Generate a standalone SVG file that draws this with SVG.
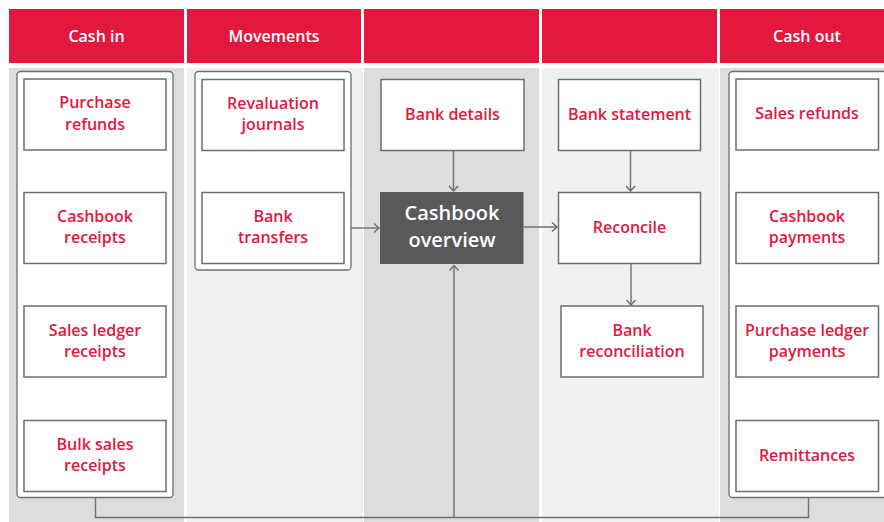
<svg xmlns="http://www.w3.org/2000/svg" width="884" height="522" viewBox="0 0 884 522">
<style>
.hdr{fill:#e4173e}
.hdrt{font-family:"Open Sans","Noto Sans",sans-serif;font-weight:600;font-size:16px;fill:#ffffff;text-anchor:middle}
.bgd{fill:#dcdddf}
.bgl{fill:#f1f1f1}
.grp{fill:#ffffff;stroke:#6d6e70;stroke-width:1.3}
.box{fill:#ffffff;stroke:#6d6e70;stroke-width:1.5}
.lbl{font-family:"Open Sans","Noto Sans",sans-serif;font-weight:600;font-size:16px;fill:#e4173e;text-anchor:middle}
.dark{fill:#58595b}
.darkt{font-family:"Open Sans","Noto Sans",sans-serif;font-weight:600;font-size:20px;fill:#ffffff;text-anchor:middle}
.con{fill:none;stroke:#6d6e70;stroke-width:1.4}
</style>
<defs>
<marker id="arr" markerUnits="userSpaceOnUse" markerWidth="12" markerHeight="12" refX="7" refY="6" orient="auto">
<path d="M2,1.5 L7,6 L2,10.5" fill="none" stroke="#6d6e70" stroke-width="1.5"/>
</marker>
</defs>
<rect width="884" height="522" fill="#ffffff"/>
<g id="headers">
<rect class="hdr" x="9" y="9" width="175" height="54"/>
<rect class="hdr" x="187" y="9" width="174" height="54"/>
<rect class="hdr" x="364" y="9" width="175" height="54"/>
<rect class="hdr" x="542" y="9" width="175" height="54"/>
<rect class="hdr" x="720" y="9" width="164" height="54"/>
<text class="hdrt" x="96.5" y="42">Cash in</text>
<text class="hdrt" x="274" y="42">Movements</text>
<text class="hdrt" x="807" y="42">Cash out</text>
</g>
<g id="columns">
<rect class="bgd" x="9" y="68" width="175" height="454"/>
<rect class="bgl" x="187" y="68" width="176" height="454"/>
<rect class="bgd" x="364" y="68" width="175" height="454"/>
<rect class="bgl" x="542" y="68" width="177" height="454"/>
<rect class="bgd" x="720" y="68" width="164" height="454"/>
</g>
<g id="group-cash-in"><rect class="grp" x="17" y="71.5" width="156" height="426" rx="3.5"/></g>
<g id="group-movements"><rect class="grp" x="195" y="71.5" width="156" height="198.5" rx="3.5"/></g>
<g id="group-cash-out"><rect class="grp" x="729" y="71.5" width="170" height="426" rx="3.5"/></g>
<g id="connectors">
<path class="con" d="M95.5,498 V517.5 H808.5 V498"/>
<path class="con" d="M454,517.5 V265.5" marker-end="url(#arr)"/>
<path class="con" d="M351,228 H379" marker-end="url(#arr)"/>
<path class="con" d="M453.5,151 V191" marker-end="url(#arr)"/>
<path class="con" d="M523.5,227 H557" marker-end="url(#arr)"/>
<path class="con" d="M630.5,151 V191" marker-end="url(#arr)"/>
<path class="con" d="M631,264 V305" marker-end="url(#arr)"/>
</g>
<g id="purchase-refunds"><rect class="box" x="24" y="79" width="142" height="71"/><text class="lbl" x="95" y="108">Purchase</text><text class="lbl" x="95" y="130">refunds</text></g>
<g id="cashbook-receipts"><rect class="box" x="24" y="192.5" width="142" height="71"/><text class="lbl" x="95" y="222">Cashbook</text><text class="lbl" x="95" y="243">receipts</text></g>
<g id="sales-ledger-receipts"><rect class="box" x="24" y="306" width="142" height="71"/><text class="lbl" x="95" y="336">Sales ledger</text><text class="lbl" x="95" y="357">receipts</text></g>
<g id="bulk-sales-receipts"><rect class="box" x="24" y="420.5" width="142" height="71"/><text class="lbl" x="95" y="450">Bulk sales</text><text class="lbl" x="95" y="471">receipts</text></g>
<g id="revaluation-journals"><rect class="box" x="202" y="79.5" width="142" height="71"/><text class="lbl" x="273" y="109">Revaluation</text><text class="lbl" x="273" y="130">journals</text></g>
<g id="bank-transfers"><rect class="box" x="202" y="192.5" width="142" height="71"/><text class="lbl" x="273" y="222">Bank</text><text class="lbl" x="273" y="243">transfers</text></g>
<g id="bank-details"><rect class="box" x="381" y="79.5" width="143" height="71"/><text class="lbl" x="452.5" y="120">Bank details</text></g>
<g id="cashbook-overview"><rect class="dark" x="380" y="192" width="143.5" height="72"/><text class="darkt" x="452" y="219.5">Cashbook</text><text class="darkt" x="452" y="247">overview</text></g>
<g id="bank-statement"><rect class="box" x="558.5" y="79.5" width="142" height="71"/><text class="lbl" x="629.5" y="120">Bank statement</text></g>
<g id="reconcile"><rect class="box" x="558.5" y="192.5" width="142" height="71"/><text class="lbl" x="629.5" y="233">Reconcile</text></g>
<g id="bank-reconciliation"><rect class="box" x="561" y="306" width="142" height="71"/><text class="lbl" x="632" y="336">Bank</text><text class="lbl" x="632" y="357">reconciliation</text></g>
<g id="sales-refunds"><rect class="box" x="736" y="79" width="142.5" height="71"/><text class="lbl" x="807" y="119">Sales refunds</text></g>
<g id="cashbook-payments"><rect class="box" x="736" y="192.5" width="142.5" height="71"/><text class="lbl" x="807" y="222">Cashbook</text><text class="lbl" x="807" y="243">payments</text></g>
<g id="purchase-ledger-payments"><rect class="box" x="736" y="306" width="142.5" height="71"/><text class="lbl" x="807" y="336">Purchase ledger</text><text class="lbl" x="807" y="357">payments</text></g>
<g id="remittances"><rect class="box" x="736" y="420.5" width="142.5" height="71"/><text class="lbl" x="807" y="461">Remittances</text></g>
</svg>
